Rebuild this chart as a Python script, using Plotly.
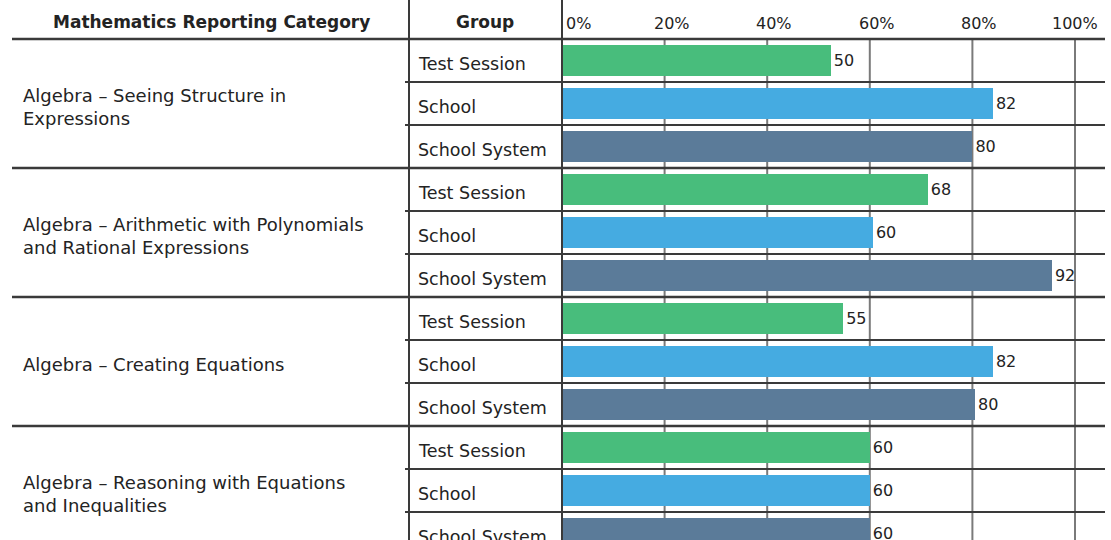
import plotly.graph_objects as go

# ---------------- data ----------------
categories = [
    "Algebra – Seeing Structure in<br>Expressions",
    "Algebra – Arithmetic with Polynomials<br>and Rational Expressions",
    "Algebra – Creating Equations",
    "Algebra – Reasoning with Equations<br>and Inequalities",
]
groups = ["Test Session", "School", "School System"]

# printed percentages (value labels)
test_session = [50, 68, 55, 60]
school = [82, 60, 82, 60]
school_system = [80, 92, 80, 60]

# bar lengths as drawn in the picture (%)
test_session_bar = [52.4, 71.3, 54.8, 60]
school_bar = [84, 60.6, 84, 60]
school_system_bar = [80, 95.5, 80.5, 60]

tick_values = [0, 20, 40, 60, 80, 100]
tick_labels = ["0%", "20%", "40%", "60%", "80%", "100%"]

header_category = "Mathematics Reporting Category"
header_group = "Group"

# ---------------- style ----------------
W, H = 1111, 540
X0_PX, PX_PER_PCT = 562, 5.13          # 0% position and scale
ROW_TOP_PX, ROW_H = 39, 43             # header line and row height
FONT = "DejaVu Sans"
TXT = "#232323"
LINE = "#3a3a3a"
GRID = "#7a7a7a"
colors = ["#48BD7C", "#45ABE1", "#5B7B99"]

labels_by_group = [test_session, school, school_system]
bars_by_group = [test_session_bar, school_bar, school_system_bar]

n_cat, n_grp = len(categories), len(groups)

def px(p):
    return p / W

def py(p):
    return 1 - p / H

xr = [-X0_PX / PX_PER_PCT, (W - X0_PX) / PX_PER_PCT]
y_top = (0 - (ROW_TOP_PX + ROW_H / 2)) / ROW_H
y_bot = (H - (ROW_TOP_PX + ROW_H / 2)) / ROW_H

fig = go.Figure()

for g in range(n_grp):
    fig.add_trace(go.Bar(
        orientation="h",
        y=[c * n_grp + g for c in range(n_cat)],
        x=bars_by_group[g],
        width=0.7,
        marker=dict(color=colors[g], line=dict(width=0)),
        text=[str(v) for v in labels_by_group[g]],
        textposition="outside",
        textfont=dict(family=FONT, size=16, color=TXT),
        constraintext="none",
        cliponaxis=False,
        hoverinfo="skip",
        showlegend=False,
    ))

shapes = []
# percentage gridlines (below header line)
for t in tick_values[1:]:
    shapes.append(dict(type="line", xref="x", yref="y", x0=t, x1=t,
                       y0=-0.5, y1=y_bot + 1, layer="below",
                       line=dict(color=GRID, width=2)))
# 0% axis line and column divider, full height
shapes.append(dict(type="line", xref="x", yref="paper", x0=0, x1=0, y0=0, y1=1,
                   line=dict(color=LINE, width=2)))
shapes.append(dict(type="line", xref="paper", yref="paper", x0=px(409), x1=px(409),
                   y0=0, y1=1, line=dict(color=LINE, width=2)))
# header and category separators
for c in range(n_cat + 1):
    yy = c * n_grp - 0.5
    shapes.append(dict(type="line", xref="paper", yref="y", x0=px(12), x1=px(1105),
                       y0=yy, y1=yy, line=dict(color=LINE, width=2.5)))
# row separators within each category
for c in range(n_cat):
    for g in range(1, n_grp):
        yy = c * n_grp + g - 0.5
        shapes.append(dict(type="line", xref="paper", yref="y", x0=px(405), x1=px(1105),
                           y0=yy, y1=yy, line=dict(color=LINE, width=2)))

annotations = []
annotations.append(dict(text="<b>" + header_category + "</b>", xref="paper", yref="paper",
                        x=px(211), y=py(22), xanchor="center", yanchor="middle",
                        showarrow=False, font=dict(family=FONT, size=17, color=TXT)))
annotations.append(dict(text="<b>" + header_group + "</b>", xref="paper", yref="paper",
                        x=px(485), y=py(22), xanchor="center", yanchor="middle",
                        showarrow=False, font=dict(family=FONT, size=17, color=TXT)))
for t, lab in zip(tick_values, tick_labels):
    if t == 0:
        annotations.append(dict(text=lab, xref="x", yref="paper", x=t, y=py(24),
                                xanchor="left", yanchor="middle", xshift=2, showarrow=False,
                                font=dict(family=FONT, size=16, color=TXT)))
    else:
        annotations.append(dict(text=lab, xref="x", yref="paper", x=t, y=py(24),
                                xanchor="center", yanchor="middle",
                                xshift=7 if t < 100 else 0, showarrow=False,
                                font=dict(family=FONT, size=16, color=TXT)))
for c, cat in enumerate(categories):
    annotations.append(dict(text=cat, xref="paper", yref="y", x=px(21), y=c * n_grp + 1,
                            xanchor="left", yanchor="middle", align="left", yshift=-3,
                            showarrow=False, font=dict(family=FONT, size=18, color=TXT)))
    for g, grp in enumerate(groups):
        annotations.append(dict(text=grp, xref="paper", yref="y", x=px(416),
                                y=c * n_grp + g, xanchor="left", yanchor="middle",
                                yshift=-3, showarrow=False,
                                font=dict(family=FONT, size=17.5, color=TXT)))

fig.update_layout(
    width=W, height=H,
    margin=dict(l=0, r=0, t=0, b=0),
    paper_bgcolor="white", plot_bgcolor="white",
    xaxis=dict(range=xr, visible=False, fixedrange=True),
    yaxis=dict(range=[y_bot, y_top], visible=False, fixedrange=True),
    bargap=0,
    shapes=shapes,
    annotations=annotations,
    showlegend=False,
)

fig.write_html("out.html", config={"displayModeBar": False, "staticPlot": True},
               post_script="document.body.style.margin='0';document.body.style.overflow='hidden';")
